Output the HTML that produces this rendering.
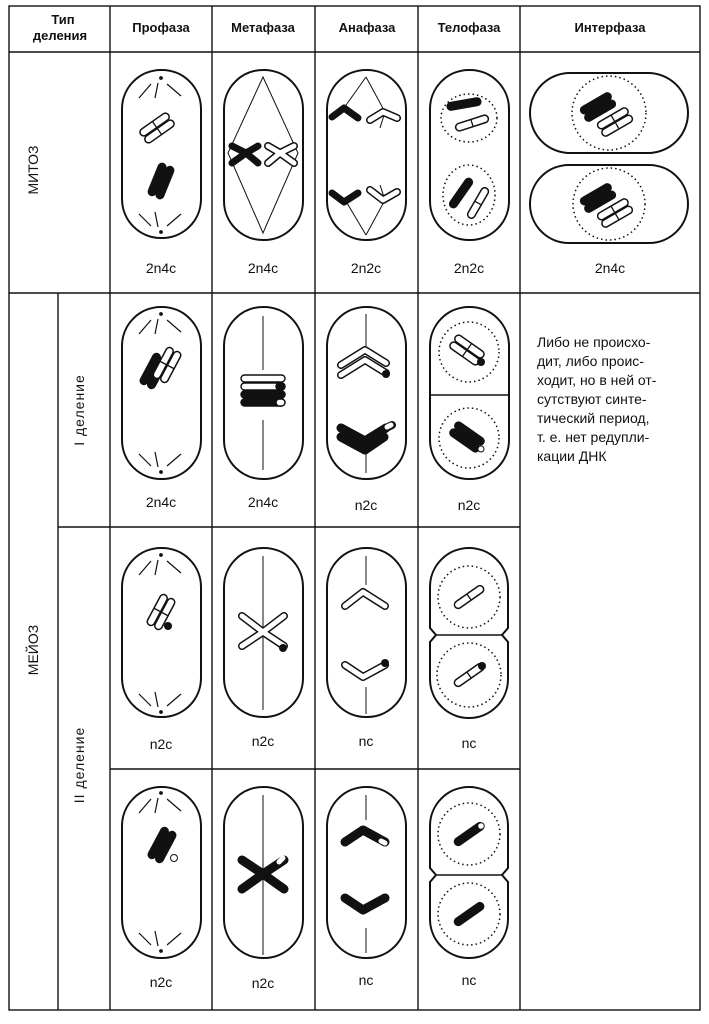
<!DOCTYPE html>
<html><head><meta charset="utf-8"><style>
html,body{margin:0;padding:0;background:#fff}
svg{display:block}
text{font-family:"Liberation Sans",sans-serif;fill:#111}
</style></head><body>
<svg width="709" height="1024" viewBox="0 0 709 1024" xmlns="http://www.w3.org/2000/svg">
<defs>
  <g id="dO">
    <rect x="-17" y="-8" width="34" height="7.5" rx="3.7" fill="#fff" stroke="#111" stroke-width="1.5"/>
    <rect x="-17" y="0.5" width="34" height="7.5" rx="3.7" fill="#fff" stroke="#111" stroke-width="1.5"/>
    <line x1="0" y1="-8" x2="0" y2="8" stroke="#111" stroke-width="1.3"/>
  </g>
  <g id="dF">
    <rect x="-17" y="-8" width="34" height="7.5" rx="3.7" fill="#111" stroke="#111" stroke-width="1.5"/>
    <rect x="-17" y="0.5" width="34" height="7.5" rx="3.7" fill="#111" stroke="#111" stroke-width="1.5"/>
  </g>
  <g id="sO"><rect x="-17" y="-3.7" width="34" height="7.5" rx="3.7" fill="#fff" stroke="#111" stroke-width="1.5"/><line x1="0" y1="-3.7" x2="0" y2="3.7" stroke="#111" stroke-width="1.3"/></g>
  <g id="sF"><rect x="-17" y="-3.7" width="34" height="7.5" rx="3.7" fill="#111" stroke="#111" stroke-width="1.5"/></g>
  <g id="astT" stroke="#111" stroke-width="1.2" fill="none">
    <circle cx="0" cy="0" r="1.3" fill="#111"/>
    <line x1="-3" y1="5" x2="-6" y2="20"/><line x1="-10" y1="6" x2="-22" y2="20"/><line x1="6" y1="6" x2="20" y2="18"/>
  </g>
  <g id="astB" stroke="#111" stroke-width="1.2" fill="none">
    <circle cx="0" cy="0" r="1.3" fill="#111"/>
    <line x1="-3" y1="-5" x2="-6" y2="-20"/><line x1="-10" y1="-6" x2="-22" y2="-18"/><line x1="6" y1="-6" x2="20" y2="-18"/>
  </g>
</defs>

<g stroke="#111" stroke-width="1.4" fill="none">
  <rect x="9" y="6" width="691" height="1004"/>
  <line x1="9" y1="52" x2="700" y2="52"/>
  <line x1="9" y1="293" x2="700" y2="293"/>
  <line x1="58" y1="527" x2="520" y2="527"/>
  <line x1="110" y1="769" x2="520" y2="769"/>
  <line x1="58" y1="293" x2="58" y2="1010"/>
  <line x1="110" y1="6" x2="110" y2="1010"/>
  <line x1="212" y1="6" x2="212" y2="1010"/>
  <line x1="315" y1="6" x2="315" y2="1010"/>
  <line x1="418" y1="6" x2="418" y2="1010"/>
  <line x1="520" y1="6" x2="520" y2="1010"/>
</g>

<g font-weight="bold" font-size="13" text-anchor="middle">
  <text x="63" y="24">Тип</text><text x="60" y="40">деления</text>
  <text x="161" y="32">Профаза</text>
  <text x="263" y="32">Метафаза</text>
  <text x="367" y="32">Анафаза</text>
  <text x="469" y="32">Телофаза</text>
  <text x="610" y="32">Интерфаза</text>
</g>
<g font-size="14" text-anchor="middle">
  <text transform="translate(38,170) rotate(-90)">МИТОЗ</text>
  <text transform="translate(38,650) rotate(-90)">МЕЙОЗ</text>
  <text transform="translate(84,410) rotate(-90)" letter-spacing="1">I деление</text>
  <text transform="translate(84,765) rotate(-90)" letter-spacing="1">II деление</text>
</g>

<g font-size="14" text-anchor="middle">
  <text x="161" y="273">2n4c</text><text x="263" y="273">2n4c</text><text x="366" y="273">2n2c</text><text x="469" y="273">2n2c</text><text x="610" y="273">2n4c</text>
  <text x="161" y="507">2n4c</text><text x="263" y="507">2n4c</text><text x="366" y="510">n2c</text><text x="469" y="510">n2c</text>
  <text x="161" y="749">n2c</text><text x="263" y="746">n2c</text><text x="366" y="746">nc</text><text x="469" y="748">nc</text>
  <text x="161" y="987">n2c</text><text x="263" y="988">n2c</text><text x="366" y="985">nc</text><text x="469" y="985">nc</text>
</g>
<g font-size="14">
  <text x="537" y="347">Либо не происхо-</text>
  <text x="537" y="366">дит, либо проис-</text>
  <text x="537" y="385">ходит, но в ней от-</text>
  <text x="537" y="404">сутствуют синте-</text>
  <text x="537" y="423">тический период,</text>
  <text x="537" y="442">т. е. нет редупли-</text>
  <text x="537" y="461">кации ДНК</text>
</g>

<g stroke="#111" stroke-width="2" fill="none">
  <rect x="122" y="70" width="79" height="168" rx="39"/>
  <rect x="224" y="70" width="79" height="170" rx="39"/>
  <rect x="327" y="70" width="79" height="170" rx="39"/>
  <rect x="430" y="70" width="79" height="170" rx="39"/>
  <rect x="530" y="73" width="158" height="80" rx="40"/>
  <rect x="530" y="165" width="158" height="78" rx="39"/>

  <rect x="122" y="307" width="79" height="172" rx="39"/>
  <rect x="224" y="307" width="79" height="172" rx="39"/>
  <rect x="327" y="307" width="79" height="172" rx="39"/>
  <rect x="430" y="307" width="79" height="172" rx="39"/>

  <rect x="122" y="548" width="79" height="169" rx="39"/>
  <rect x="224" y="548" width="79" height="169" rx="39"/>
  <rect x="327" y="548" width="79" height="169" rx="39"/>
  <rect x="122" y="787" width="79" height="171" rx="39"/>
  <rect x="224" y="787" width="79" height="171" rx="39"/>
  <rect x="327" y="787" width="79" height="171" rx="39"/>

  <path d="M430,628 L430,587 A39,39 0 0 1 508,587 L508,628 L502,635 L508,642 L508,679 A39,39 0 0 1 430,679 L430,642 L436,635 Z"/>
  <line x1="436" y1="635" x2="502" y2="635" stroke-width="1.5"/>
  <path d="M430,868 L430,826 A39,39 0 0 1 508,826 L508,868 L502,875 L508,882 L508,919 A39,39 0 0 1 430,919 L430,882 L436,875 Z"/>
  <line x1="436" y1="875" x2="502" y2="875" stroke-width="1.5"/>
</g>
<line x1="430" y1="395" x2="509" y2="395" stroke="#111" stroke-width="1.5"/>

<g stroke="#111" stroke-width="1.5" fill="none" stroke-dasharray="1.5 3">
  <ellipse cx="469" cy="118" rx="28" ry="24"/>
  <ellipse cx="469" cy="195" rx="26" ry="30"/>
  <circle cx="609" cy="113" r="37"/>
  <circle cx="609" cy="204" r="36"/>
  <ellipse cx="469" cy="352" rx="30" ry="30"/>
  <ellipse cx="469" cy="438" rx="30" ry="30"/>
  <circle cx="469" cy="597" r="31"/>
  <circle cx="469" cy="675" r="32"/>
  <circle cx="469" cy="834" r="31"/>
  <circle cx="469" cy="914" r="31"/>
</g>

<use href="#astT" x="161" y="78"/><use href="#astB" x="161" y="232"/>
<use href="#dO" transform="translate(157,128) rotate(-35)"/>
<use href="#dF" transform="translate(161,181) rotate(-68)"/>
<path d="M263,77 L228,153 L263,233 L298,153 Z" stroke="#111" stroke-width="1" fill="none"/>
<g stroke-linecap="round" fill="none">
  <path d="M232,146 L246,153 L258,146 M232,163 L246,153 L258,163" stroke="#111" stroke-width="7"/>
  <path d="M268,146 L280,153 L294,146 M268,163 L280,153 L294,163" stroke="#111" stroke-width="8"/>
  <path d="M268,146 L280,153 L294,146 M268,163 L280,153 L294,163" stroke="#fff" stroke-width="5"/>
</g>
<g stroke="#111" stroke-width="1" fill="none">
  <path d="M366,77 L344,108 M366,77 L385,112 L380,128"/>
  <path d="M366,235 L344,198 M366,235 L385,200 L380,185"/>
</g>
<g stroke-linecap="round" stroke-linejoin="round" fill="none">
  <path d="M332,117 L344,108 L358,118" stroke="#111" stroke-width="7"/>
  <path d="M332,193 L344,202 L358,193" stroke="#111" stroke-width="7"/>
  <path d="M370,120 L383,112 L397,118 M370,190 L383,200 L397,192" stroke="#111" stroke-width="8"/>
  <path d="M370,120 L383,112 L397,118 M370,190 L383,200 L397,192" stroke="#fff" stroke-width="5"/>
</g>
<use href="#sF" transform="translate(464,104) rotate(-10)"/>
<use href="#sO" transform="translate(472,123) rotate(-18)"/>
<use href="#sF" transform="translate(461,193) rotate(-55)"/>
<use href="#sO" transform="translate(478,203) rotate(-60)"/>
<use href="#dF" transform="translate(598,107) rotate(-30)"/>
<use href="#dO" transform="translate(615,122) rotate(-30)"/>
<use href="#dF" transform="translate(598,198) rotate(-30)"/>
<use href="#dO" transform="translate(615,213) rotate(-30)"/>

<use href="#astT" x="161" y="314"/><use href="#astB" x="161" y="472"/>
<use href="#dF" transform="translate(154,371) rotate(-62)"/>
<use href="#dO" transform="translate(167,365) rotate(-62)"/>
<line x1="263" y1="316" x2="263" y2="370" stroke="#111" stroke-width="1"/>
<line x1="263" y1="420" x2="263" y2="470" stroke="#111" stroke-width="1"/>
<g stroke="#111" stroke-width="1.4">
  <rect x="241" y="375" width="44" height="7" rx="3.5" fill="#fff"/>
  <rect x="241" y="383" width="44" height="7" rx="3.5" fill="#fff"/>
  <rect x="241" y="391" width="44" height="7" rx="3.5" fill="#111"/>
  <rect x="241" y="399" width="44" height="7" rx="3.5" fill="#111"/>
  <rect x="275" y="391" width="10" height="7" rx="3.5" fill="#111"/>
  <rect x="276" y="399" width="9" height="7" rx="3.5" fill="#fff"/>
  <rect x="276" y="383" width="9" height="7" rx="3.5" fill="#111"/>
</g>
<g stroke="#111" stroke-width="1" fill="none"><line x1="366" y1="314" x2="366" y2="348"/><line x1="366" y1="452" x2="366" y2="473"/></g>
<g stroke-linecap="round" stroke-linejoin="round" fill="none">
  <path d="M341,365 L365,350 L386,363 M341,375 L365,360 L386,373" stroke="#111" stroke-width="8"/>
  <path d="M341,365 L365,350 L386,363 M341,375 L365,360 L386,373" stroke="#fff" stroke-width="5"/>
  <circle cx="386" cy="374" r="4" fill="#111"/>
  <path d="M341,428 L365,441 L386,428 M341,437 L365,450 L384,437" stroke="#111" stroke-width="9"/>
  <path d="M386,428 L392,425" stroke="#111" stroke-width="8"/>
  <path d="M387,427 L391,425" stroke="#fff" stroke-width="5"/>
</g>
<use href="#dO" transform="translate(467,350) rotate(35)"/>
<circle cx="481" cy="362" r="4" fill="#111"/>
<use href="#dF" transform="translate(467,437) rotate(35)"/>
<circle cx="481" cy="449" r="3" fill="#fff" stroke="#111"/>

<use href="#astT" x="161" y="555"/><use href="#astB" x="161" y="712"/>
<use href="#dO" transform="translate(161,612) rotate(-62)"/>
<circle cx="168" cy="626" r="4" fill="#111"/>
<line x1="263" y1="556" x2="263" y2="710" stroke="#111" stroke-width="1"/>
<g stroke-linecap="round" fill="none">
  <path d="M242,616 L263,632 L284,616 M242,646 L263,632 L284,646" stroke="#111" stroke-width="8"/>
  <path d="M242,616 L263,632 L284,616 M242,646 L263,632 L284,646" stroke="#fff" stroke-width="5"/>
  <circle cx="283" cy="648" r="4" fill="#111"/>
</g>
<g stroke="#111" stroke-width="1" fill="none"><line x1="366" y1="556" x2="366" y2="585"/><line x1="366" y1="687" x2="366" y2="714"/></g>
<g stroke-linecap="round" stroke-linejoin="round" fill="none">
  <path d="M345,606 L363,592 L385,606 M345,665 L363,677 L385,665" stroke="#111" stroke-width="8"/>
  <path d="M345,606 L363,592 L385,606 M345,665 L363,677 L385,665" stroke="#fff" stroke-width="5"/>
  <circle cx="385" cy="663" r="4" fill="#111"/>
</g>
<use href="#sO" transform="translate(469,597) rotate(-35)"/>
<use href="#sO" transform="translate(469,675) rotate(-35)"/>
<circle cx="482" cy="666" r="4" fill="#111"/>

<use href="#astT" x="161" y="793"/><use href="#astB" x="161" y="951"/>
<use href="#dF" transform="translate(162,845) rotate(-62)"/>
<circle cx="174" cy="858" r="3.5" fill="#fff" stroke="#111"/>
<line x1="263" y1="795" x2="263" y2="955" stroke="#111" stroke-width="1"/>
<g stroke-linecap="round" fill="none">
  <path d="M242,860 L263,874 L284,860 M242,889 L263,874 L284,889" stroke="#111" stroke-width="9"/>
  <path d="M279,862 L283,858" stroke="#fff" stroke-width="5"/>
</g>
<g stroke="#111" stroke-width="1" fill="none"><line x1="366" y1="795" x2="366" y2="820"/><line x1="366" y1="928" x2="366" y2="953"/></g>
<g stroke-linecap="round" stroke-linejoin="round" fill="none">
  <path d="M345,842 L363,830 L385,842 M345,898 L363,910 L385,898" stroke="#111" stroke-width="9"/>
  <path d="M381,841 L385,843" stroke="#fff" stroke-width="5"/>
</g>
<use href="#sF" transform="translate(469,834) rotate(-35)"/>
<circle cx="481" cy="826" r="3.3" fill="#fff" stroke="#111"/>
<use href="#sF" transform="translate(469,914) rotate(-35)"/>
</svg>
</body></html>
